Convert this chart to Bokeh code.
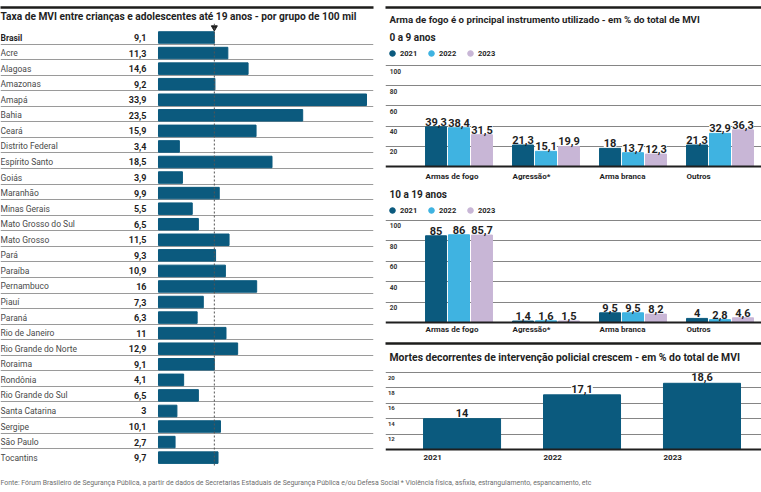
from bokeh.plotting import figure
from bokeh.models import (ColumnDataSource, Range1d, FixedTicker, Span, Title, Legend, LegendItem,
                          Grid, LinearAxis)
from bokeh.transform import dodge
from bokeh.layouts import row, column
from bokeh.core.properties import value
from bokeh.embed import file_html
from bokeh.resources import INLINE

# ---------------- data ----------------
states = ["Brasil", "Acre", "Alagoas", "Amazonas", "Amapá", "Bahia", "Ceará", "Distrito Federal",
          "Espírito Santo", "Goiás", "Maranhão", "Minas Gerais", "Mato Grosso do Sul", "Mato Grosso",
          "Pará", "Paraíba", "Pernambuco", "Piauí", "Paraná", "Rio de Janeiro", "Rio Grande do Norte",
          "Roraima", "Rondônia", "Rio Grande do Sul", "Santa Catarina", "Sergipe", "São Paulo", "Tocantins"]
rates = [9.1, 11.3, 14.6, 9.2, 33.9, 23.5, 15.9, 3.4, 18.5, 3.9, 9.9, 5.5, 6.5, 11.5,
         9.3, 10.9, 16, 7.3, 6.3, 11, 12.9, 9.1, 4.1, 6.5, 3, 10.1, 2.7, 9.7]

instruments = ["Armas de fogo", "Agressão*", "Arma branca", "Outros"]
years = ["2021", "2022", "2023"]
age0_9_2021 = [39.3, 21.3, 18, 21.3]
age0_9_2022 = [38.4, 15.1, 13.7, 32.9]
age0_9_2023 = [31.5, 19.9, 12.3, 36.3]
age10_19_2021 = [85, 1.4, 9.5, 4]
age10_19_2022 = [86, 1.6, 9.5, 2.8]
age10_19_2023 = [85.7, 1.5, 8.2, 4.6]
pct_ticks = [20, 40, 60, 80, 100]

police_years = ["2021", "2022", "2023"]
police_share = [14, 17.1, 18.6]
police_ticks = [12, 14, 16, 18, 20]
POLICE_BASE = 10

# ---------------- style ----------------
FONT = "Roboto"
INK = "#1f1f1f"
BLUE = "#0b5a7e"
LIGHT = "#3fb3e1"
LAV = "#c8b6d6"
GRIDC = "#858585"
RULE = "#1d1d1b"
YEAR_COLORS = [BLUE, LIGHT, LAV]


def fmt(v):
    return f"{v:g}".replace(".", ",")


def base_fig(w, h, xr, yr, **kw):
    opts = dict(width=w, height=h, x_range=xr, y_range=yr, output_backend="svg",
                toolbar_location=None, x_axis_location=None, y_axis_location=None,
                min_border_left=0, min_border_right=0, min_border_top=0, min_border_bottom=0,
                outline_line_color=None, background_fill_color="white", border_fill_color="white")
    opts.update(kw)
    p = figure(**opts)
    p.grid.visible = False
    return p


def add_rule(p, side):
    """Thick black rule drawn as a label-less axis line on one side of the frame."""
    ax = LinearAxis(ticker=FixedTicker(ticks=[]), major_tick_out=0, major_tick_in=0,
                    minor_tick_out=0, minor_tick_in=0, major_label_standoff=0,
                    major_label_text_font_size="0px", axis_line_color=RULE, axis_line_width=2.5)
    p.add_layout(ax, side)


def title(text, size, standoff, offset=0, bold=True, color=INK):
    return Title(text=text, text_font=FONT, text_font_size=size,
                 text_font_style="bold" if bold else "normal", text_color=color,
                 align="left", standoff=standoff, offset=offset)


# ---------------- left: rates by state ----------------
XL = (-25.75, 35.04)
YL = (27.57, -0.9)
left = base_fig(385, 472, Range1d(*XL), Range1d(*YL), min_border_right=12, min_border_bottom=6,
                min_border_top=23)
left.add_layout(title("Taxa de MVI entre crianças e adolescentes até 19 anos -  por grupo de 100 mil",
                      "10.2px", 3), "above")
add_rule(left, "above")
left.add_layout(Grid(dimension=1, ticker=FixedTicker(ticks=[i + 0.42 for i in range(len(states) - 1)]),
                     grid_line_color="#9a9a9a", grid_line_width=1))
src_l = ColumnDataSource(dict(
    row=list(range(len(states))), state=states, rate=rates,
    label=[fmt(v) for v in rates],
    style=["bold" if s == "Brasil" else "normal" for s in states],
    color=[INK if s == "Brasil" else "#4a4a4a" for s in states]))
left.hbar(y="row", left=0, right="rate", height=0.74, color=BLUE, source=src_l)
left.text(x=XL[0], y="row", text="state", text_font=value(FONT), text_font_size="8.5px",
          text_font_style="style", text_color="color", text_baseline="middle", text_align="left",
          source=src_l)
left.text(x=-1.96, y="row", text="label", text_font=value(FONT), text_font_size="9px",
          text_font_style="bold", text_color=INK, text_baseline="middle", text_align="right",
          source=src_l)
left.add_layout(Span(location=rates[0], dimension="height", line_color="#555555",
                     line_width=1, line_dash="2 2"))
left.scatter(x=[rates[0]], y=[-0.64], marker="inverted_triangle", size=6, color=INK)


# ---------------- right: grouped bars ----------------
XG = (-0.46, 3.862)
BAR_W = 0.2414
OFFS = [0.121, 0.385, 0.649]


def grouped(h, sub, series, y0, y1, top, sub_standoff, label_off, bottom=0,
            main=None, main_standoff=0):
    p = base_fig(376, h, Range1d(*XG), Range1d(y0, y1), min_border_top=top,
                 min_border_bottom=bottom)
    src = ColumnDataSource(dict(
        xi=list(range(len(instruments))), cat=instruments,
        s0=series[0], s1=series[1], s2=series[2],
        l0=[fmt(v) for v in series[0]], l1=[fmt(v) for v in series[1]],
        l2=[fmt(v) for v in series[2]]))
    p.add_layout(Grid(dimension=1, ticker=FixedTicker(ticks=pct_ticks),
                      grid_line_color=GRIDC, grid_line_width=1))
    p.add_layout(Span(location=0, dimension="width", line_color=INK, line_width=2))
    items = []
    for j, yname in enumerate(years):
        p.vbar(x=dodge("xi", OFFS[j]), top=f"s{j}", bottom=0, width=BAR_W,
               color=YEAR_COLORS[j], source=src)
        p.text(x=dodge("xi", OFFS[j]), y=f"s{j}", text=f"l{j}", text_font=value(FONT),
               text_font_size="11px", text_font_style="bold", text_color=INK,
               text_align="center", text_baseline="bottom", y_offset=-1,
               background_fill_color="white", source=src)
        r = p.scatter(x=dodge("xi", OFFS[j]), y=f"s{j}", size=0, marker="circle",
                      color=YEAR_COLORS[j], source=src)
        items.append(LegendItem(label=yname, renderers=[r]))
    tsrc = ColumnDataSource(dict(t=pct_ticks, lab=[str(t) for t in pct_ticks]))
    p.text(x=XG[0] + 0.05, y="t", text="lab", text_font=value(FONT), text_font_size="6.5px",
           text_font_style="bold", text_color="#333333", text_baseline="top", y_offset=3, source=tsrc)
    p.text(x="xi", y=0, text="cat", text_font=value(FONT), text_font_size="8px",
           text_font_style="bold", text_color=INK, text_baseline="top", text_align="left",
           y_offset=label_off, source=src)
    leg = Legend(items=items, orientation="horizontal", location="top_left", margin=0, padding=0,
                 spacing=4, label_standoff=1, glyph_width=14, glyph_height=20, label_height=20,
                 label_text_font=FONT, label_text_font_size="7.5px", label_text_font_style="bold",
                 label_text_color=INK, border_line_color=None, background_fill_alpha=0)
    p.add_layout(leg)
    p.add_layout(title(sub, "10px", sub_standoff, offset=4), "above")
    if main:
        p.add_layout(title(main, "9.7px", main_standoff, offset=4), "above")
    return p


f1 = grouped(183, "0 a 9 anos", [age0_9_2021, age0_9_2022, age0_9_2023], -16.8, 121.8,
             top=43, sub_standoff=1, label_off=5,
             main="Arma de fogo é o principal instrumento utilizado - em % do total de MVI",
             main_standoff=9)
add_rule(f1, "above")
f2 = grouped(162, "10 a 19 anos", [age10_19_2021, age10_19_2022, age10_19_2023], -20.6, 119.6,
             top=17, sub_standoff=2, label_off=3, bottom=2)
add_rule(f2, "below")

# ---------------- right bottom: police ----------------
XP = (-0.317, 2.817)
f3 = base_fig(376, 127, Range1d(*XP), Range1d(7.01, 20.91), min_border_top=20)
f3.add_layout(title("Mortes decorrentes de intervenção policial crescem - em % do total de MVI",
                    "10.4px", 4, offset=4), "above")
f3.add_layout(Grid(dimension=1, ticker=FixedTicker(ticks=police_ticks),
                   grid_line_color=GRIDC, grid_line_width=1))
f3.add_layout(Span(location=POLICE_BASE, dimension="width", line_color=INK, line_width=2))
psrc = ColumnDataSource(dict(xi=list(range(len(police_years))), yr=police_years, v=police_share,
                             lab=[fmt(v) for v in police_share]))
f3.vbar(x=dodge("xi", 0.321), top="v", bottom=POLICE_BASE, width=0.642, color=BLUE, source=psrc)
f3.text(x=dodge("xi", 0.321), y="v", text="lab", text_font=value(FONT), text_font_size="11px",
        text_font_style="bold", text_color=INK, text_align="center", text_baseline="bottom",
        y_offset=-2, background_fill_color="white", source=psrc)
f3.text(x="xi", y=POLICE_BASE, text="yr", text_font=value(FONT), text_font_size="8px",
        text_font_style="bold", text_color=INK, text_align="left", text_baseline="top",
        y_offset=6, source=psrc)
ptk = ColumnDataSource(dict(t=police_ticks, lab=[str(t) for t in police_ticks]))
f3.text(x=XP[0] + 0.02, y="t", text="lab", text_font=value(FONT), text_font_size="6px",
        text_font_style="bold", text_color="#333333", text_baseline="top", y_offset=3, source=ptk)

# ---------------- footer ----------------
foot = base_fig(761, 18, Range1d(0, 1), Range1d(0, 1), min_border_top=14)
foot.add_layout(title("Fonte: Fórum Brasileiro de Segurança Pública, a partir de dados de Secretarias "
                      "Estaduais de Segurança Pública e/ou Defesa Social   * Violência física, asfixia, "
                      "estrangulamento, espancamento, etc", "6.9px", 0, bold=False, color="#6e6e6e"),
                "above")

right_col = column(f1, f2, f3, spacing=0)
page = column(row(left, right_col, spacing=0), foot, spacing=0)

open("out.html", "w").write(file_html(page, INLINE))
